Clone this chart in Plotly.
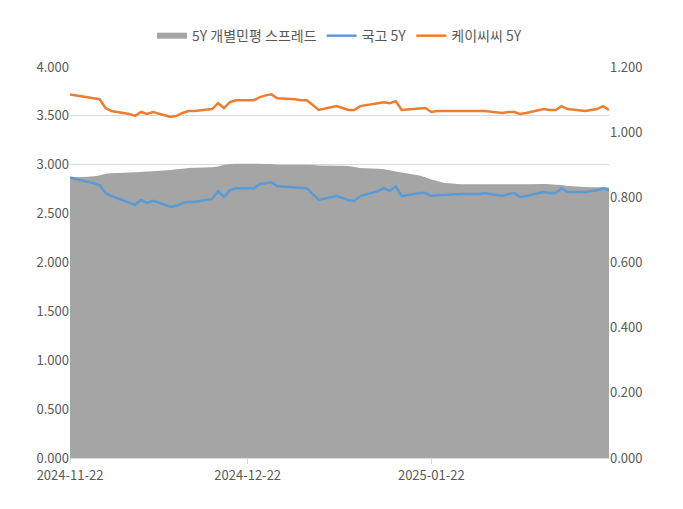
import pandas as pd
import plotly.graph_objects as go

dates = pd.bdate_range('2024-11-22', '2025-02-21')

# 국고 5Y (좌축)
ktb5 = [2.87, 2.83, 2.81, 2.79, 2.71, 2.68,
        2.61, 2.59, 2.64, 2.61, 2.63,
        2.57, 2.58, 2.61, 2.62, 2.62,
        2.65, 2.73, 2.67, 2.74, 2.76,
        2.76, 2.80, 2.81, 2.82, 2.78,
        2.77, 2.76, 2.76, 2.70, 2.64,
        2.68, 2.66, 2.64, 2.63, 2.68,
        2.73, 2.76, 2.73, 2.78, 2.68,
        2.71, 2.71, 2.68, 2.69, 2.69,
        2.70, 2.70, 2.70, 2.70, 2.71,
        2.68, 2.70, 2.71, 2.67, 2.68,
        2.72, 2.71, 2.71, 2.76, 2.72,
        2.72, 2.73, 2.74, 2.76, 2.74]

# 케이씨씨 5Y (좌축)
kcc5 = [3.72, 3.69, 3.68, 3.67, 3.58, 3.55,
        3.52, 3.50, 3.54, 3.52, 3.54,
        3.49, 3.50, 3.53, 3.55, 3.55,
        3.57, 3.63, 3.58, 3.64, 3.66,
        3.66, 3.69, 3.71, 3.72, 3.68,
        3.67, 3.66, 3.66, 3.61, 3.56,
        3.60, 3.58, 3.56, 3.56, 3.60,
        3.63, 3.64, 3.63, 3.65, 3.56,
        3.58, 3.58, 3.54, 3.55, 3.55,
        3.55, 3.55, 3.55, 3.55, 3.55,
        3.53, 3.54, 3.54, 3.52, 3.53,
        3.57, 3.56, 3.56, 3.60, 3.57,
        3.55, 3.56, 3.57, 3.60, 3.56]

# 5Y 개별민평 스프레드 (우축)
spread = [0.861, 0.863, 0.865, 0.867, 0.872, 0.874,
          0.876, 0.877, 0.878, 0.879, 0.880,
          0.884, 0.886, 0.888, 0.890, 0.891,
          0.892, 0.895, 0.900, 0.902, 0.903,
          0.903, 0.903, 0.902, 0.902, 0.900,
          0.900, 0.900, 0.900, 0.899, 0.898,
          0.897, 0.897, 0.896, 0.893, 0.890,
          0.888, 0.886, 0.883, 0.879, 0.876,
          0.867, 0.862, 0.855, 0.850, 0.845,
          0.840, 0.840, 0.840, 0.840, 0.840,
          0.840, 0.840, 0.840, 0.840, 0.840,
          0.841, 0.840, 0.839, 0.838, 0.835,
          0.832, 0.831, 0.831, 0.831, 0.830]

tick_dates = ['2024-11-22', '2024-12-22', '2025-01-22']

fig = go.Figure()
# 영역은 기본축(우측), 선은 겹친 축(좌측) -> 선이 영역 위에 그려짐
fig.add_trace(go.Scatter(x=dates, y=spread, name='5Y 개별민평 스프레드', yaxis='y',
                         fill='tozeroy', fillcolor='#A5A5A5', mode='none'))
fig.add_trace(go.Scatter(x=dates, y=ktb5, name='국고 5Y', mode='lines', yaxis='y2',
                         line=dict(color='#5B9BD5', width=2.5)))
fig.add_trace(go.Scatter(x=dates, y=kcc5, name='케이씨씨 5Y', mode='lines', yaxis='y2',
                         line=dict(color='#ED7D31', width=2.5)))

fig.update_layout(
    width=683, height=509, plot_bgcolor='white', paper_bgcolor='white',
    margin=dict(l=62, r=82, t=44, b=59),
    font=dict(family='Noto Sans CJK KR', size=13, color='#595959'),
    legend=dict(orientation='h', x=0.5, xanchor='center', y=1.12, yanchor='top',
                font=dict(size=14)),
    xaxis=dict(range=[dates[0], dates[-1]], tickvals=tick_dates, ticktext=tick_dates,
               showgrid=False, ticks='outside', ticklen=5, tickcolor='#D9D9D9',
               showline=True, linecolor='#D9D9D9'),
    yaxis=dict(range=[0, 1.2], dtick=0.2, tickformat='.3f', side='right',
               showgrid=False, zeroline=False,
               minor=dict(dtick=0.15, showgrid=True, gridcolor='#D9D9D9')),
    yaxis2=dict(range=[0, 4], dtick=0.5, tickformat='.3f', overlaying='y',
                side='left', showgrid=False, zeroline=False),
)
fig.write_html('out.html')
